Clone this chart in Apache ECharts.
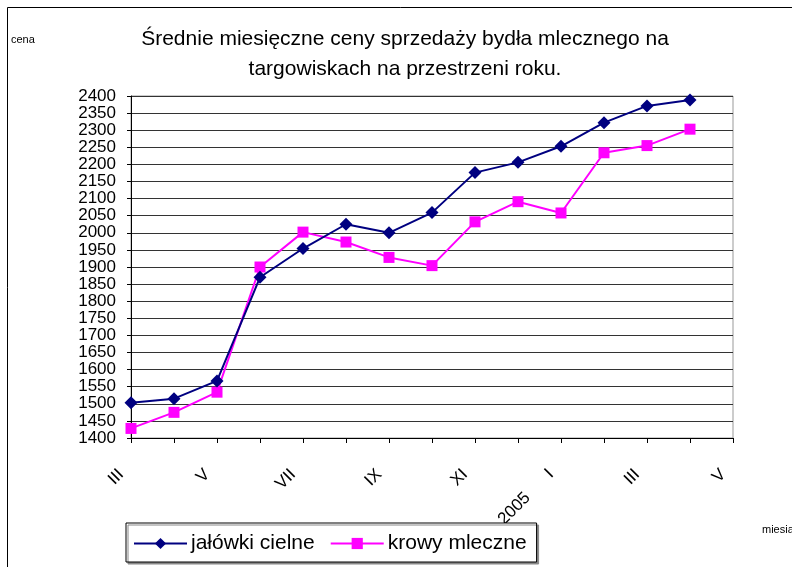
<!DOCTYPE html>
<html>
<head>
<meta charset="utf-8">
<script src="https://cdn.jsdelivr.net/npm/echarts@6/dist/echarts.min.js"></script>
<style>
  html, body { margin: 0; padding: 0; background: #fff; }
  #chart { width: 792px; height: 567px; }
</style>
</head>
<body>
<div id="chart"></div>
<script>
// months from III 2004 to V 2005 (last one has no data)
const months = ['III', 'IV', 'V', 'VI', 'VII', 'VIII', 'IX', 'X', 'XI', 'XII', '2005      I', 'II', 'III', 'IV', 'V'];
const jalowki = [1503, 1515, 1567, 1870, 1954, 2025, 2000, 2059, 2176, 2206, 2253, 2322, 2371, 2388, null];
const krowy = [1428, 1475, 1534, 1900, 2002, 1973, 1928, 1904, 2032, 2091, 2058, 2234, 2255, 2303, null];

const font = 'Liberation Sans, Arial, sans-serif';

const option = {
  animation: false,
  backgroundColor: '#fff',
  title: [
    {
      text: 'Średnie miesięczne ceny sprzedaży bydła mlecznego na\ntargowiskach na przestrzeni roku.',
      left: 405,
      top: 24,
      padding: 0,
      textAlign: 'center',
      textStyle: { fontFamily: font, fontSize: 21, fontWeight: 'normal', color: '#000', lineHeight: 30 }
    },
    {
      text: 'cena',
      left: 11,
      top: 34,
      padding: 0,
      textStyle: { fontFamily: font, fontSize: 11, fontWeight: 'normal', color: '#000' }
    },
    {
      text: 'miesiąc',
      left: 762,
      top: 524,
      padding: 0,
      textStyle: { fontFamily: font, fontSize: 11, fontWeight: 'normal', color: '#000' }
    }
  ],
  graphic: [
    {
      type: 'rect',
      shape: { x: 7.5, y: 7.5, width: 900, height: 700 },
      style: { fill: 'none', stroke: '#000', lineWidth: 1 },
      silent: true
    }
  ],
  legend: {
    left: 126,
    top: 523,
    padding: [10, 10, 8, 7],
    itemWidth: 53,
    itemHeight: 14,
    itemGap: 15,
    backgroundColor: '#fff',
    borderColor: '#000',
    borderWidth: 1,
    shadowColor: '#888',
    shadowOffsetX: 2,
    shadowOffsetY: 2,
    shadowBlur: 0,
    textStyle: { fontFamily: font, fontSize: 21, color: '#000', padding: [0, 0, 0, -1] },
    data: ['jałówki cielne', 'krowy mleczne']
  },
  grid: {
    left: 131,
    right: 59,
    top: 96,
    bottom: 129,
    show: true,
    borderColor: '#999',
    borderWidth: 1
  },
  xAxis: {
    type: 'category',
    data: months,
    boundaryGap: false,
    axisLine: { lineStyle: { color: '#000', width: 1 } },
    axisTick: { show: true, interval: 0, length: 5, lineStyle: { color: '#000' } },
    axisLabel: {
      interval: 1,
      rotate: 45,
      margin: 24,
      padding: [0, 14, 0, 0],
      fontFamily: font,
      fontSize: 17,
      color: '#000'
    },
    splitLine: { show: false }
  },
  yAxis: {
    type: 'value',
    min: 1400,
    max: 2400,
    interval: 50,
    axisLine: { show: true, lineStyle: { color: '#000', width: 1 } },
    axisTick: { show: true, length: 4, lineStyle: { color: '#000' } },
    axisLabel: { fontFamily: font, fontSize: 17, color: '#000', margin: 15, formatter: v => String(v) },
    splitLine: { show: true, lineStyle: { color: '#333', width: 1 } }
  },
  series: [
    {
      name: 'jałówki cielne',
      type: 'line',
      data: jalowki,
      symbol: 'diamond',
      symbolSize: 13,
      showAllSymbol: true,
      lineStyle: { color: '#000080', width: 2 },
      itemStyle: { color: '#000080' },
      z: 3
    },
    {
      name: 'krowy mleczne',
      type: 'line',
      data: krowy,
      symbol: 'rect',
      symbolSize: 11,
      showAllSymbol: true,
      lineStyle: { color: '#ff00ff', width: 2 },
      itemStyle: { color: '#ff00ff' },
      z: 2
    }
  ]
};

const chart = echarts.init(document.getElementById('chart'));
chart.setOption(option);
</script>
</body>
</html>
